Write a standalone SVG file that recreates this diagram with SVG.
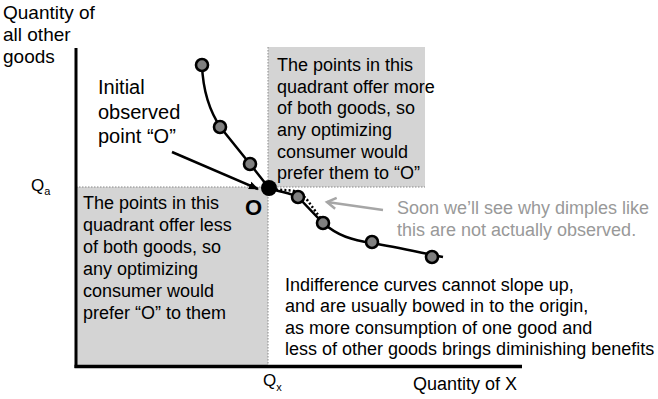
<svg xmlns="http://www.w3.org/2000/svg" width="658" height="399" viewBox="0 0 658 399">
<defs>
<style>
text{font-family:"Liberation Sans",Arial,sans-serif;fill:#000}
.t18{font-size:18px}
.t19{font-size:19px}
.t20{font-size:20px}
.soon{font-size:18px;fill:#999}
.box{fill:#d4d4d4}
.dot{stroke:#888;stroke-width:1;stroke-dasharray:1.5 1.5;fill:none}
.curve{fill:none;stroke:#000;stroke-width:2.5}
.pt{fill:#808080;stroke:#000;stroke-width:2.6}
</style>
<marker id="ah" markerWidth="10" markerHeight="10" refX="9" refY="5" orient="auto" markerUnits="userSpaceOnUse">
<path d="M0,1 L10,5 L0,9 Z" fill="#000"/>
</marker>
<marker id="gh" markerWidth="14" markerHeight="14" refX="11" refY="7" orient="auto" markerUnits="userSpaceOnUse">
<path d="M2,1.5 L11,7 L2,12.5" fill="none" stroke="#a6a6a6" stroke-width="2.5"/>
</marker>
</defs>
<rect width="658" height="399" fill="#fff"/>

<g id="quadrant-upper">
<rect class="box" x="268" y="47" width="157" height="140"/>
<text class="t18" x="277" y="71">The points in this</text>
<text class="t18" x="277" y="93">quadrant offer more</text>
<text class="t18" x="277" y="114">of both goods, so</text>
<text class="t18" x="277" y="136">any optimizing</text>
<text class="t18" x="277" y="158">consumer would</text>
<text class="t18" x="277" y="179">prefer them to “O”</text>
</g>

<g id="quadrant-lower">
<rect class="box" x="76" y="187" width="192" height="179"/>
<text class="t18" x="83" y="209">The points in this</text>
<text class="t18" x="83" y="231">quadrant offer less</text>
<text class="t18" x="83" y="253">of both goods, so</text>
<text class="t18" x="83" y="275">any optimizing</text>
<text class="t18" x="83" y="297">consumer would</text>
<text class="t18" x="83" y="319">prefer “O” to them</text>
</g>

<g id="guides">
<line class="dot" x1="76" y1="187" x2="425" y2="187"/>
<line class="dot" x1="268" y1="47" x2="268" y2="366"/>
</g>

<g id="axes">
<line x1="76" y1="48" x2="76" y2="368" stroke="#000" stroke-width="3"/>
<line x1="74.5" y1="366.5" x2="522" y2="366.5" stroke="#000" stroke-width="3.5"/>
<text class="t19" x="3" y="19">Quantity of</text>
<text class="t19" x="3" y="41">all other</text>
<text class="t19" x="3" y="63">goods</text>
<text class="t18" x="413" y="390">Quantity of X</text>
<text style="font-size:17px" x="31" y="191">Q<tspan style="font-size:11px" dy="4">a</tspan></text>
<text style="font-size:17px" x="263" y="386">Q<tspan style="font-size:11px" dy="5">x</tspan></text>
</g>

<g id="indifference-curve">
<path class="curve" d="M202,65 C203,92 210,112 221,128 L250,164 L269,188 C280,192 290,193 298,197 L323,223 C338,236 352,240 372,243 C395,247 418,252 443,257"/>
<path d="M276,189.5 L292,190.5 C300,192 304,196 308,201 L321,219" fill="none" stroke="#000" stroke-width="2.5" stroke-dasharray="2 2.2"/>
<circle class="pt" cx="202" cy="65" r="6"/>
<circle class="pt" cx="220" cy="127" r="6"/>
<circle class="pt" cx="250" cy="164" r="6"/>
<circle class="pt" cx="298" cy="197" r="6"/>
<circle class="pt" cx="323" cy="223" r="6"/>
<circle class="pt" cx="372" cy="242" r="6"/>
<circle class="pt" cx="432" cy="257" r="6"/>
</g>

<g id="point-O">
<circle cx="269" cy="188" r="8" fill="#000"/>
<text x="245" y="215" style="font-size:22px;font-weight:bold">O</text>
</g>

<g id="label-initial">
<text class="t20" x="98" y="94">Initial</text>
<text class="t20" x="98" y="119">observed</text>
<text class="t20" x="98" y="143">point “O”</text>
</g>

<g id="label-soon">
<text class="soon" x="397" y="214">Soon we’ll see why dimples like</text>
<text class="soon" x="397" y="236">this are not actually observed.</text>
</g>

<g id="label-indifference">
<text class="t18" x="285" y="291">Indifference curves cannot slope up,</text>
<text class="t18" x="285" y="312">and are usually bowed in to the origin,</text>
<text class="t18" x="285" y="334">as more consumption of one good and</text>
<text class="t18" x="285" y="355">less of other goods brings diminishing benefits</text>
</g>

<g id="connectors">
<line x1="172" y1="152" x2="258" y2="189" stroke="#000" stroke-width="2.5" marker-end="url(#ah)"/>
<line x1="383" y1="210" x2="327" y2="202" stroke="#a6a6a6" stroke-width="2.5" marker-end="url(#gh)"/>
</g>
</svg>
